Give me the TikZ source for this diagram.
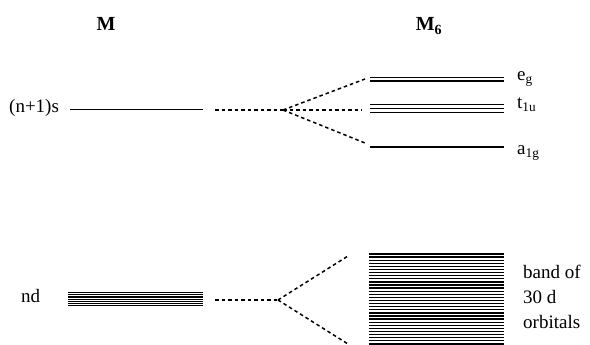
\documentclass[tikz,border=0pt]{standalone}
\usepackage{fontspec}
\setmainfont{Liberation Serif}
\begin{document}
\begin{tikzpicture}[x=1pt,y=-1pt,
  lvl/.style={line width=1.6pt, black},
  bandline/.style={line width=1.3pt, black},
  thinband/.style={line width=1.1pt, black},
  link/.style={line width=1.5pt, dash pattern=on 3.5pt off 3pt},
  lbl/.style={inner sep=0pt, anchor=base west, font=\fontsize{19}{23}\selectfont},
  ttl/.style={inner sep=0pt, anchor=base, font=\fontsize{20}{24}\selectfont\bfseries}]
\useasboundingbox (0,0) rectangle (590,345);

% column titles
\node[ttl] (tM) at (106,31) {M};
\node[ttl] (tM6) at (429,31) {M$_{\mathbf{6}}$};

% ---------- (n+1)s level and its splitting ----------
\node[lbl] (slbl) at (9,113) {(n+1)s};
\coordinate (s0) at (70,109.5);
\coordinate (s1) at (203,109.5);
\draw[lvl] (s0) -- (s1);

\coordinate (sd0) at (215,110);
\coordinate (sfan) at (283,110);
\draw[link] (sd0) -- (sfan);

% e_g (two lines)
\foreach \y in {77.5,81.3} \draw[lvl] (370,\y) -- (504,\y);
% t_1u (three lines)
\foreach \y in {104.5,108.5,112.5} \draw[lvl] (370,\y) -- (504,\y);
% a_1g (one line)
\draw[lvl] (370,147) -- (504,147);

\coordinate (eg) at (365,79);
\coordinate (tu) at (362,110);
\coordinate (ag) at (365,143);
\draw[link] (sfan) -- (eg);
\draw[link] (sfan) -- (tu);
\draw[link] (sfan) -- (ag);

\node[lbl] (leg) at (517,81) {e\textsubscript{g}};
\node[lbl] (ltu) at (517,109) {t\textsubscript{1u}};
\node[lbl] (lag) at (517,155) {a\textsubscript{1g}};

% ---------- nd level and the d band ----------
\node[lbl] (dlbl) at (21,302) {nd};
\foreach \i in {0,...,6} \draw[thinband] (68,292.8+2.1*\i) -- (203,292.8+2.1*\i);

\coordinate (dd0) at (215,300);
\coordinate (dfan) at (278,300);
\draw[link] (dd0) -- (dfan);
\coordinate (bt) at (348,256);
\coordinate (bb) at (348,344);
\draw[link] (dfan) -- (bt);
\draw[link] (dfan) -- (bb);

\foreach \i in {0,...,29} \draw[bandline] (369,254+3.1*\i) -- (504,254+3.1*\i);

\node[lbl] (b1) at (523,278) {band of};
\node[lbl] (b2) at (523,303) {30 d};
\node[lbl] (b3) at (523,328) {orbitals};
\end{tikzpicture}
\end{document}
